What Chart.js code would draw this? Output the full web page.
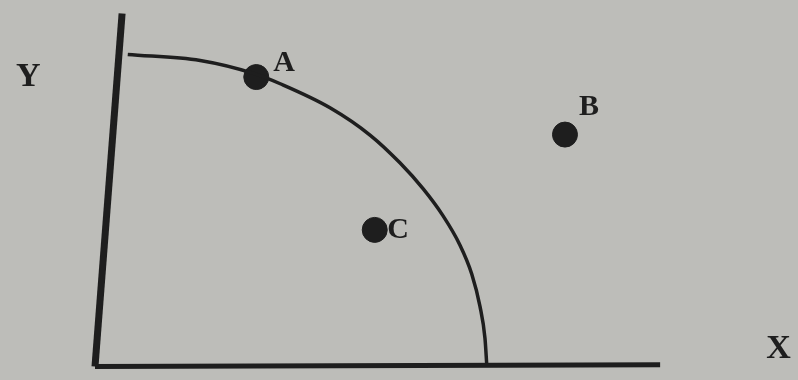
<!DOCTYPE html>
<html>
<head>
<meta charset="utf-8">
<script src="https://cdn.jsdelivr.net/npm/chart.js@4.4.0/dist/chart.umd.min.js"></script>
<style>
  html, body { margin: 0; padding: 0; background: #bdbdb9; }
  #wrap { width: 798px; height: 380px; }
</style>
</head>
<body>
<div id="wrap"><canvas id="ppf" width="798" height="380"></canvas></div>
<script>
// --- datos: frontera de posibilidades de producción ---
const axisX = [{ x: 0, y: 0 }, { x: 8.97, y: 0.05 }];
const axisY = [{ x: 0, y: 0 }, { x: 0.43, y: 10 }];
const frontier = [
  { x: 0.52, y: 8.84 }, { x: 1.67, y: 8.67 }, { x: 2.54, y: 8.29 },
  { x: 2.94, y: 8.01 }, { x: 3.73, y: 7.33 }, { x: 4.37, y: 6.55 },
  { x: 4.84, y: 5.77 }, { x: 5.21, y: 5.03 }, { x: 5.52, y: 4.28 },
  { x: 5.79, y: 3.45 }, { x: 5.98, y: 2.62 }, { x: 6.11, y: 1.71 },
  { x: 6.19, y: 0.80 }, { x: 6.22, y: 0 }
];
const pointNames = ["A", "B", "C"];
const pointsXY = [{ x: 2.56, y: 8.20 }, { x: 7.46, y: 6.57 }, { x: 4.44, y: 3.87 }];
// posición de las etiquetas (unidades de datos)
const nameXY = [{ x: 3.0, y: 8.6 }, { x: 7.84, y: 7.35 }, { x: 4.81, y: 3.87 }];
const axisNames = ["Y", "X"];
const axisNameXY = [{ x: -1.06, y: 8.2 }, { x: 10.85, y: 0.5 }];

const ink = "#1e1e1e";

// --- plugin: textos en coordenadas de datos ---
const labelsPlugin = {
  id: "labels",
  afterDatasetsDraw(chart) {
    const { ctx, scales: { x, y } } = chart;
    ctx.save();
    ctx.fillStyle = ink;
    ctx.textAlign = "center";
    ctx.textBaseline = "middle";
    ctx.font = "bold 30px 'Liberation Serif', 'DejaVu Serif', serif";
    pointNames.forEach((t, i) => {
      ctx.fillText(t, x.getPixelForValue(nameXY[i].x), y.getPixelForValue(nameXY[i].y));
    });
    ctx.font = "bold 34px 'Liberation Serif', 'DejaVu Serif', serif";
    axisNames.forEach((t, i) => {
      ctx.fillText(t, x.getPixelForValue(axisNameXY[i].x), y.getPixelForValue(axisNameXY[i].y));
    });
    ctx.restore();
  }
};

new Chart(document.getElementById("ppf").getContext("2d"), {
  type: "scatter",
  data: {
    datasets: [
      { data: axisY, showLine: true, borderColor: ink, borderWidth: 7, pointRadius: 0, borderCapStyle: "butt" },
      { data: axisX, showLine: true, borderColor: ink, borderWidth: 5, pointRadius: 0 },
      { data: frontier, showLine: true, borderColor: ink, borderWidth: 3.5, pointRadius: 0, cubicInterpolationMode: "monotone" },
      { data: pointsXY, showLine: false, pointRadius: 12.5, backgroundColor: ink, borderColor: ink, pointHoverRadius: 12.5 }
    ]
  },
  options: {
    responsive: false,
    animation: false,
    clip: false,
    layout: { padding: { left: 95, right: 73, top: 10, bottom: 8 } },
    scales: {
      x: { type: "linear", min: 0, max: 10, display: false },
      y: { type: "linear", min: 0, max: 10, display: false }
    },
    plugins: { legend: { display: false }, tooltip: { enabled: false } }
  },
  plugins: [labelsPlugin]
});
</script>
</body>
</html>
